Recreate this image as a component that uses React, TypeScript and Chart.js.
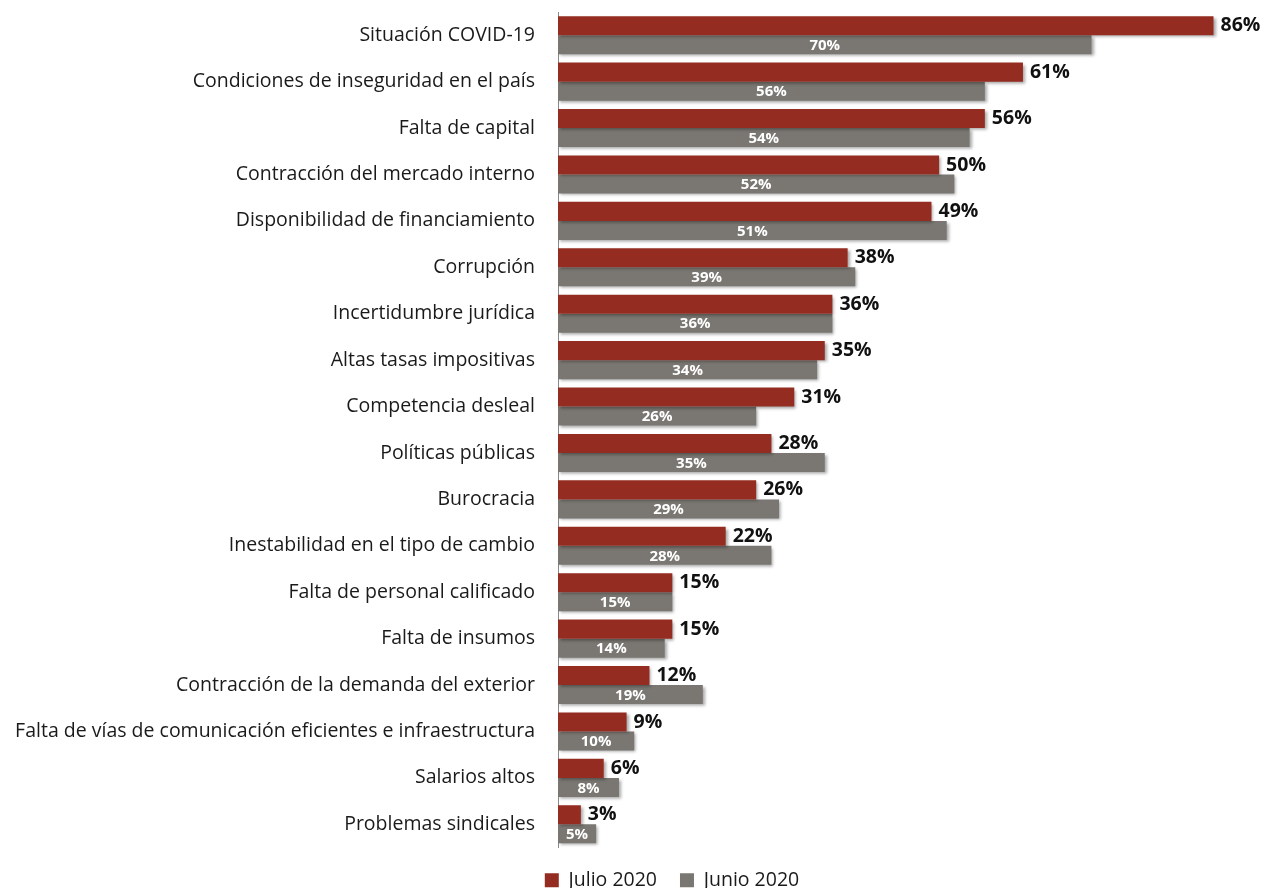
import React, { useEffect, useRef } from "react";
import { Chart, registerables } from "chart.js";

Chart.register(...registerables);

const categories = [
  "Situación COVID-19",
  "Condiciones de inseguridad en el país",
  "Falta de capital",
  "Contracción del mercado interno",
  "Disponibilidad de financiamiento",
  "Corrupción",
  "Incertidumbre jurídica",
  "Altas tasas impositivas",
  "Competencia desleal",
  "Políticas públicas",
  "Burocracia",
  "Inestabilidad en el tipo de cambio",
  "Falta de personal calificado",
  "Falta de insumos",
  "Contracción de la demanda del exterior",
  "Falta de vías de comunicación eficientes e infraestructura",
  "Salarios altos",
  "Problemas sindicales",
];

const julio2020 = [86, 61, 56, 50, 49, 38, 36, 35, 31, 28, 26, 22, 15, 15, 12, 9, 6, 3];
const junio2020 = [70, 56, 54, 52, 51, 39, 36, 34, 26, 35, 29, 28, 15, 14, 19, 10, 8, 5];

const seriesNames = ["Julio 2020", "Junio 2020"];
const FONT = "'Open Sans', 'Noto Sans', sans-serif";
const LEGEND_SHIFT = 50;

const shadowPlugin = {
  id: "barShadow",
  beforeDatasetDraw(chart: any) {
    const ctx = chart.ctx;
    ctx.save();
    ctx.shadowColor = "rgba(0,0,0,0.35)";
    ctx.shadowBlur = 3;
    ctx.shadowOffsetX = 2;
    ctx.shadowOffsetY = 2;
  },
  afterDatasetDraw(chart: any) {
    chart.ctx.restore();
  },
};

const legendShiftPlugin = {
  id: "legendShift",
  afterLayout(chart: any) {
    const l = chart.legend;
    if (l) {
      l.left += LEGEND_SHIFT;
      l.right += LEGEND_SHIFT;
    }
  },
};

const labelPlugin = {
  id: "valueLabels",
  afterDatasetsDraw(chart: any) {
    const ctx = chart.ctx;
    ctx.save();
    ctx.textBaseline = "middle";
    chart.data.datasets.forEach((ds: any, di: number) => {
      const meta = chart.getDatasetMeta(di);
      meta.data.forEach((el: any, i: number) => {
        const v = ds.data[i];
        const txt = `${v}%`;
        if (di === 0) {
          ctx.font = `bold 19.5px ${FONT}`;
          ctx.fillStyle = "#111111";
          ctx.textAlign = "left";
          ctx.fillText(txt, el.x + 7, el.y);
        } else {
          ctx.font = `bold 15px ${FONT}`;
          ctx.fillStyle = "#ffffff";
          ctx.textAlign = "center";
          ctx.fillText(txt, (el.x + el.base) / 2, el.y + 1);
        }
      });
    });
    ctx.restore();
  },
};

export default function App() {
  const ref = useRef<HTMLCanvasElement | null>(null);

  useEffect(() => {
    if (!ref.current) return;
    const chart = new Chart(ref.current, {
      type: "bar",
      data: {
        labels: categories,
        datasets: [
          {
            label: seriesNames[0],
            data: julio2020,
            backgroundColor: "#942c21",
            borderWidth: 0,
            categoryPercentage: 0.82,
            barPercentage: 1,
          },
          {
            label: seriesNames[1],
            data: junio2020,
            backgroundColor: "#7a7772",
            borderWidth: 0,
            categoryPercentage: 0.82,
            barPercentage: 1,
          },
        ],
      },
      options: {
        indexAxis: "y",
        animation: false,
        responsive: false,
        maintainAspectRatio: false,
        layout: { padding: { top: 12, right: 20, left: 0, bottom: -12 } },
        scales: {
          x: {
            min: 0,
            max: 90,
            display: false,
          },
          y: {
            grid: { display: false },
            border: { display: true, color: "#8a8a8a", width: 1 },
            ticks: {
              padding: 15,
              color: "#1a1a1a",
              font: { family: FONT, size: 19.5 },
            },
            afterFit: (s: any) => {
              s.width = 558;
              s.paddingTop = 0;
              s.paddingBottom = 0;
            },
          },
        },
        plugins: {
          legend: {
            position: "bottom",
            labels: {
              boxWidth: 14,
              boxHeight: 14,
              padding: 23,
              color: "#1a1a1a",
              font: { family: FONT, size: 19.5 },
            },
          },
          tooltip: { enabled: false },
        },
      },
      plugins: [shadowPlugin, labelPlugin, legendShiftPlugin],
    });
    return () => chart.destroy();
  }, []);

  return (
    <div style={{ position: "fixed", left: 0, top: 0, width: 1264, height: 888, background: "#fff" }}>
      <canvas ref={ref} width={1264} height={888} style={{ width: 1264, height: 888, display: "block" }} />
    </div>
  );
}
